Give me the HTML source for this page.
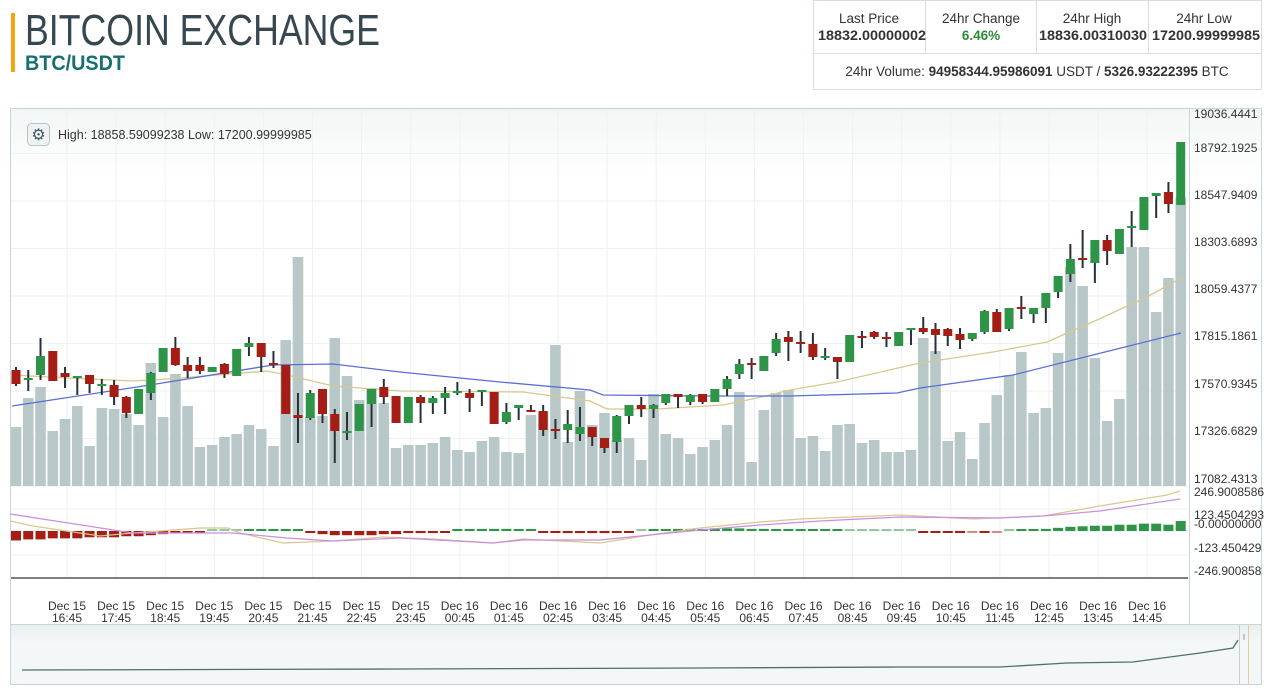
<!DOCTYPE html>
<html><head><meta charset="utf-8"><style>
body{margin:0;width:1280px;height:700px;background:#fff;overflow:hidden;font-family:"Liberation Sans",sans-serif}
svg{position:absolute;left:0;top:0}
</style></head><body>
<svg id="s" width="1280" height="700" xmlns="http://www.w3.org/2000/svg" font-family="Liberation Sans, sans-serif">
<defs>
<linearGradient id="gt" x1="0" y1="0" x2="0" y2="1"><stop offset="0" stop-color="#f3f6f6"/><stop offset="0.12" stop-color="#fff"/></linearGradient>
<linearGradient id="gn" x1="0" y1="0" x2="0" y2="1"><stop offset="0" stop-color="#e9eeee"/><stop offset="0.3" stop-color="#f4f7f7"/></linearGradient>
</defs>
<!-- header -->
<rect x="11" y="13" width="4" height="59" fill="#f5a30a"/>
<text x="25" y="45" font-size="44" fill="#37474f" textLength="355" lengthAdjust="spacingAndGlyphs">BITCOIN EXCHANGE</text>
<text x="25" y="70" font-size="21" font-weight="bold" fill="#17706f" textLength="100" lengthAdjust="spacingAndGlyphs">BTC/USDT</text>
<!-- stats box -->
<rect x="813.5" y="0.5" width="448" height="89" fill="#fff" stroke="#d5dfe0"/>
<line x1="813" y1="53.5" x2="1262" y2="53.5" stroke="#d5dfe0"/>
<line x1="925.5" y1="0" x2="925.5" y2="53" stroke="#d5dfe0"/>
<line x1="1036.5" y1="0" x2="1036.5" y2="53" stroke="#d5dfe0"/>
<line x1="1148.5" y1="0" x2="1148.5" y2="53" stroke="#d5dfe0"/>
<g font-size="13.5" fill="#333" text-anchor="middle">
<text x="869" y="23">Last Price</text><text x="981" y="23">24hr Change</text><text x="1092" y="23">24hr High</text><text x="1204" y="23">24hr Low</text>
<g font-weight="bold"><text x="872" y="40" textLength="108" lengthAdjust="spacingAndGlyphs">18832.00000002</text><text x="981" y="40" fill="#2e8b3a">6.46%</text><text x="1093" y="40" textLength="108" lengthAdjust="spacingAndGlyphs">18836.00310030</text><text x="1206" y="40" textLength="108" lengthAdjust="spacingAndGlyphs">17200.99999985</text></g>
<text x="1037" y="76">24hr Volume: <tspan font-weight="bold">94958344.95986091</tspan> USDT / <tspan font-weight="bold">5326.93222395</tspan> BTC</text>
</g>
<!-- chart frame -->
<rect x="10.5" y="108.5" width="1251" height="576" fill="url(#gt)" stroke="#c9d6d7"/>
<g id="grid" stroke="#edf2f2" stroke-width="1"></g>
<rect x="11" y="625" width="1250" height="59" fill="url(#gn)"/>
<line x1="11" y1="624.5" x2="1261" y2="624.5" stroke="#c9d6d7"/>
<line x1="11" y1="578" x2="1188" y2="578" stroke="#555" stroke-width="1.5"/>
<line x1="1189.5" y1="108" x2="1189.5" y2="624" stroke="#c9d6d7"/>
<g id="vol"></g>
<g id="macd"></g>
<polyline fill="none" stroke="#d8c88e" stroke-width="1.3" points="12,375 67,378 133,381 167,379 267,371 287,375 333,386 400,391 523,392 590,401 607,409 657,409 723,405 757,398 790,390 837,382 920,363 993,352 1047,342 1097,320 1147,297 1181,278"/>
<polyline fill="none" stroke="#5a6fd6" stroke-width="1.3" points="12,406 150,385 273,365 333,364 400,372 500,382 590,390 603,395 700,396 790,396 897,393 920,388 1013,375 1113,350 1181,333"/>
<g id="cdl"></g>
<!-- macd lines -->
<polyline fill="none" stroke="#d8c88e" stroke-width="1.2" points="10,521 33,526 100,536 133,533 200,528 228,528 240,533 283,543 333,541 383,537 433,539 493,543 523,539 600,543 650,535 700,528 760,522 800,519 900,515 973,519 1043,516 1100,506 1167,495 1180,491"/>
<polyline fill="none" stroke="#c98ee0" stroke-width="1.2" points="10,514 133,533 233,533 287,538 333,541 400,538 493,543 523,540 600,540 650,535 700,530 760,525 820,521 900,517 1000,518 1043,516 1100,511 1180,499"/>
<!-- axis labels -->
<g font-size="12" fill="#333">
<text x="1194" y="118">19036.4441</text><text x="1194" y="152">18792.1925</text><text x="1194" y="199">18547.9409</text><text x="1194" y="246">18303.6893</text><text x="1194" y="293">18059.4377</text><text x="1194" y="340">17815.1861</text><text x="1194" y="388">17570.9345</text><text x="1194" y="435">17326.6829</text><text x="1194" y="483">17082.4313</text>
<text x="1194" y="496">246.9008586</text><text x="1194" y="519">123.4504293</text><text x="1194" y="528">-0.00000000</text><text x="1194" y="552">-123.450429</text><text x="1194" y="575">-246.900858</text>
</g>
<g id="xl" font-size="12" fill="#333" text-anchor="middle"></g>
<!-- navigator -->
<polyline fill="none" stroke="#4f6f72" stroke-width="1.3" points="22,670 400,669 700,668 900,667 1000,667 1067,663 1133,662 1170,657 1200,653 1220,650 1233,648 1238,640"/>
<line x1="1239.5" y1="625" x2="1239.5" y2="684" stroke="#c8cfcf"/>
<line x1="1248.5" y1="625" x2="1248.5" y2="684" stroke="#e3cf98"/>
<line x1="1244" y1="634" x2="1244" y2="640" stroke="#999"/>
<!-- info -->
<rect x="27.5" y="123.5" width="22" height="22" rx="4" fill="#eef2f2" stroke="#b9c4c5"/>
<text x="38.5" y="140" font-size="16" fill="#455a64" text-anchor="middle">⚙</text>
<text x="58" y="139" font-size="12.5" fill="#333">High: 18858.59099238  Low: 17200.99999985</text>
</svg>
<script>
var NS="http://www.w3.org/2000/svg";
function el(p,t,a){var e=document.createElementNS(NS,t);for(var k in a)e.setAttribute(k,a[k]);document.getElementById(p).appendChild(e);return e;}
// grid
for(var k=0;k<23;k++){var x=67+k*49.1;el("grid","line",{x1:x,y1:109,x2:x,y2:577});}
for(var y=486;y>110;y-=47.5)el("grid","line",{x1:11,y1:y,x2:1188,y2:y});
[509,531,555].forEach(function(y){el("grid","line",{x1:11,y1:y,x2:1188,y2:y});});
// x labels
var hrs=["16:45","17:45","18:45","19:45","20:45","21:45","22:45","23:45","00:45","01:45","02:45","03:45","04:45","05:45","06:45","07:45","08:45","09:45","10:45","11:45","12:45","13:45","14:45"];
for(var k=0;k<23;k++){var x=67+k*49.1;var t=el("xl","text",{x:x,y:610});t.textContent=(k<8?"Dec 15":"Dec 16");var t2=el("xl","text",{x:x,y:622});t2.textContent=hrs[k];}
var D=`r 370 384 367 386 427
g 378 380 370 391 398
g 356 375 338 380 387
r 351 381 351 381 431
r 373 377 367 388 419
g 376 378 376 395 406
r 375 384 375 393 446
g 384 386 379 395 408
r 385 397 380 405 409
r 397 413 396 418 414
g 389 414 389 414 425
g 373 393 372 400 363
g 348 372 348 372 417
r 348 365 337 366 374
r 365 371 357 378 406
r 365 371 357 374 447
g 367 372 367 372 445
r 364 374 363 378 437
g 349 376 349 376 434
g 343 347 337 356 425
r 343 357 343 372 429
r 363 365 351 368 446
r 365 414 365 414 340
r 415 418 393 443 257
g 393 418 390 420 417
r 389 414 389 423 416
r 414 431 409 463 338
g 431 433 412 440 376
g 404 431 404 431 400
g 389 404 389 427 388
r 387 397 379 404 403
r 396 423 396 423 448
g 397 423 397 423 445
r 397 403 395 423 445
g 398 403 396 414 443
g 393 398 387 414 437
g 391 393 382 395 450
r 393 398 389 412 452
g 390 392 390 406 441
r 392 424 392 424 437
g 412 422 403 424 452
g 405 408 405 420 453
r 410 412 405 412 415
r 411 430 405 436 412
r 429 431 419 439 345
g 424 430 410 443 442
g 427 434 407 441 391
r 427 437 427 446 425
r 438 448 438 453 413
g 416 442 415 453 440
g 405 416 405 424 438
r 405 409 397 417 460
g 405 409 404 418 394
g 394 403 394 405 434
r 394 397 394 408 438
g 395 402 394 405 454
r 394 402 394 404 447
g 389 402 389 402 440
g 379 389 376 396 425
g 364 374 359 379 392
r 363 365 358 379 462
g 356 371 356 371 410
g 339 353 333 356 393
r 337 342 331 361 390
r 342 344 331 353 438
r 344 357 333 360 436
g 356 357 348 360 451
r 357 362 357 379 425
g 335 362 335 362 424
r 336 338 331 348 443
r 332 337 331 339 440
r 337 339 332 347 452
g 332 346 332 346 452
g 328 330 328 345 450
r 328 332 317 334 338
r 329 335 323 354 351
r 329 336 328 346 441
r 334 340 328 349 432
g 333 339 333 341 459
g 311 332 310 334 423
r 312 332 309 332 395
g 308 329 308 331 375
r 307 309 296 319 352
g 308 314 308 323 413
g 293 308 293 323 408
g 276 292 276 298 353
g 259 274 244 282 267
r 258 260 230 268 286
g 240 263 240 283 358
r 240 251 235 265 421
g 229 254 229 254 399
g 226 228 211 247 247
g 197 230 197 230 247
g 193 196 193 218 312
r 192 204 182 213 278
g 142 205 142 205 198`.split("\n");
var H=[-9,-8,-8,-7,-7,-7,-6,-6,-6,-5,-5,-4,-3,-2,-1,-1,0.5,0.5,0.5,1,1.5,1.5,1,1,-1,-3,-4,-4,-4,-4,-3,-3,-2,-2,-2,-1,1,1.5,2,2,2,1,1,-1,-1.5,-2,-2,-2,-2,-1.5,-1,0.5,1,1.5,2,2,2,2.5,2.5,2.5,2,2,1.5,1.5,1,1,1,1,0.5,0.5,0.5,0.5,0.5,0.5,-1,-1.5,-1.5,-1,-0.5,-1,-0.5,0.5,1,1.5,2,3,4,4.5,5,5,6,6,7,7,6,9.5];
D.forEach(function(line,i){
 var a=line.trim().split(/\s+/);var x=16+i*12.26;
 var c=a[0]=="g"?"#2e9447":"#a51d14";
 var bt=+a[1],bb=+a[2],wt=+a[3],wb=+a[4],v=+a[5];
 el("vol","rect",{x:x-5.3,y:v,width:10.6,height:486-v,fill:"#b8c8c9"});
 el("cdl","line",{x1:x,y1:wt,x2:x,y2:wb,stroke:"#263238","stroke-width":2});
 var h=Math.max(bb-bt,2);
 el("cdl","rect",{x:x-4.5,y:bt,width:9,height:h,fill:c});
 var hv=H[i]*1.05;var hc=hv>=0?"#2e9447":"#a51d14";var hh=Math.max(Math.abs(hv),2);
 var op=Math.abs(hv)<0.8?0.5:1;
 el("macd","rect",{x:x-5,y:hv>=0?531-hh:531,width:10,height:hh,fill:hc,opacity:op});
});
</script>
</body></html>
